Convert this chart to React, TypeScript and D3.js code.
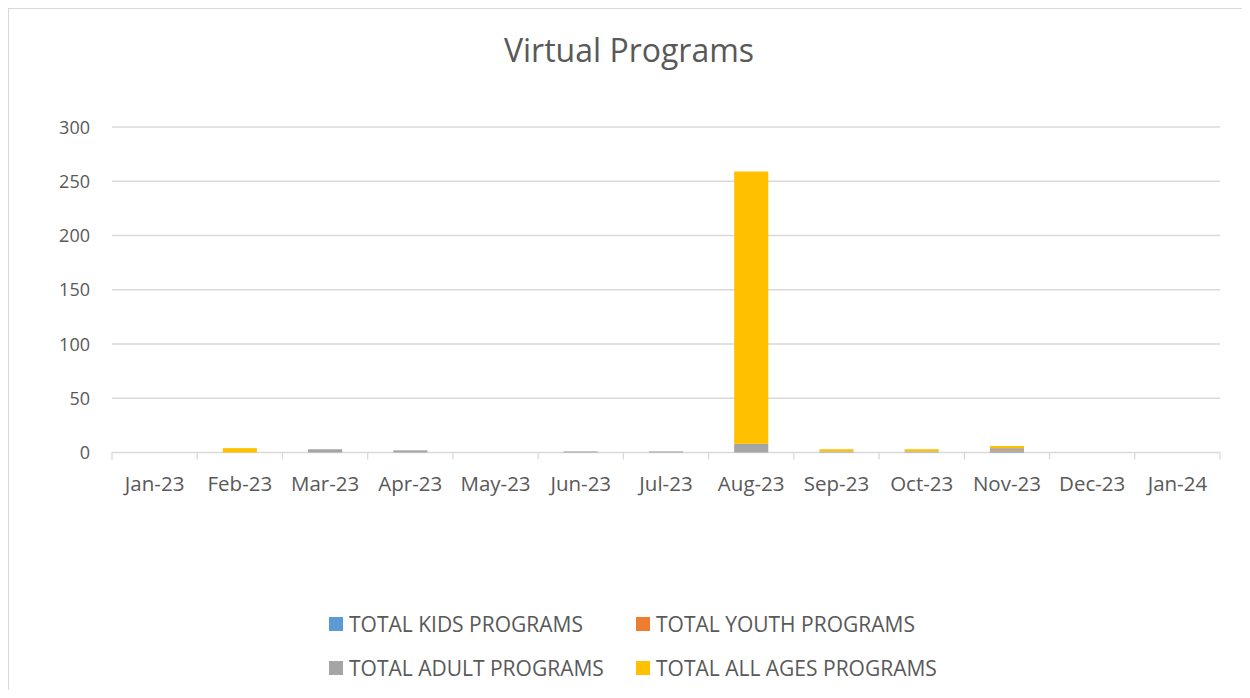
import React, { useEffect, useRef } from "react";
import * as d3 from "d3";

// Months on the category axis
const months = [
  "Jan-23", "Feb-23", "Mar-23", "Apr-23", "May-23", "Jun-23", "Jul-23",
  "Aug-23", "Sep-23", "Oct-23", "Nov-23", "Dec-23", "Jan-24",
];

// Series values (stacked, bottom to top)
const kidsPrograms = [0, 0, 0, 0, 0, 0, 0, 0, 0, 0, 1, 0, 0];
const youthPrograms = [0, 0, 0, 0, 0, 0, 0, 0, 0, 0, 1, 0, 0];
const adultPrograms = [0, 0, 3, 2, 0, 1, 1, 8, 1, 1, 2, 0, 0];
const allAgesPrograms = [0, 4, 0, 0, 0, 0, 0, 251, 2, 2, 2, 0, 0];

const seriesNames = [
  "TOTAL KIDS PROGRAMS",
  "TOTAL YOUTH PROGRAMS",
  "TOTAL ADULT PROGRAMS",
  "TOTAL ALL AGES PROGRAMS",
];
const seriesColors = ["#5B9BD5", "#ED7D31", "#A5A5A5", "#FFC000"];
const yTicks = [0, 50, 100, 150, 200, 250, 300];

const FONT = "'Open Sans', Lato, sans-serif";
const TEXT = "#595959";

const VirtualPrograms: React.FC = () => {
  const svgRef = useRef<SVGSVGElement>(null);

  useEffect(() => {
    if (!svgRef.current) return;
    const svg = d3.select(svgRef.current);
    svg.selectAll("*").remove();

    const width = 1242;
    const height = 682;
    const left = 104;
    const right = 1212;
    const top = 119;
    const bottom = 444.5;

    // chart frame (right/bottom edges run off the page like the original)
    svg
      .append("rect")
      .attr("x", 0.5)
      .attr("y", 0.5)
      .attr("width", width + 20)
      .attr("height", height + 20)
      .attr("fill", "white")
      .attr("stroke", "#d9d9d9");

    const x = d3.scaleBand<string>().domain(months).range([left, right]).paddingInner(0.6).paddingOuter(0.3);
    const xOuter = d3.scaleBand<string>().domain(months).range([left, right]);
    const y = d3.scaleLinear().domain([0, 300]).range([bottom, top]);

    // gridlines
    svg
      .append("g")
      .selectAll("line")
      .data(yTicks)
      .enter()
      .append("line")
      .attr("x1", left)
      .attr("x2", right)
      .attr("y1", (d) => y(d))
      .attr("y2", (d) => y(d))
      .attr("stroke", "#d9d9d9")
      .attr("stroke-width", 1.3);

    // y labels
    svg
      .append("g")
      .selectAll("text")
      .data(yTicks)
      .enter()
      .append("text")
      .attr("x", 82)
      .attr("y", (d) => y(d) + 6.5)
      .attr("text-anchor", "end")
      .style("font-family", FONT)
      .style("font-size", "18px")
      .style("fill", TEXT)
      .text((d) => d);

    // x tick marks at category boundaries
    const boundaries = months.map((m) => xOuter(m) as number).concat([right]);
    svg
      .append("g")
      .selectAll("line")
      .data(boundaries)
      .enter()
      .append("line")
      .attr("x1", (d) => d)
      .attr("x2", (d) => d)
      .attr("y1", bottom)
      .attr("y2", bottom + 7)
      .attr("stroke", "#d9d9d9")
      .attr("stroke-width", 1.3);

    // stacked bars
    const table = months.map((m, i) => ({
      month: m,
      kids: kidsPrograms[i],
      youth: youthPrograms[i],
      adult: adultPrograms[i],
      all: allAgesPrograms[i],
    }));
    const stack = d3.stack<any>().keys(["kids", "youth", "adult", "all"]);
    const layers = stack(table);

    svg
      .append("g")
      .selectAll("g")
      .data(layers)
      .enter()
      .append("g")
      .attr("fill", (_, i) => seriesColors[i])
      .selectAll("rect")
      .data((d) => d)
      .enter()
      .append("rect")
      .attr("x", (d: any) => x(d.data.month) as number)
      .attr("width", x.bandwidth())
      .attr("y", (d) => y(d[1]))
      .attr("height", (d) => y(d[0]) - y(d[1]));

    // x labels
    svg
      .append("g")
      .selectAll("text")
      .data(months)
      .enter()
      .append("text")
      .attr("x", (d) => (xOuter(d) as number) + xOuter.bandwidth() / 2)
      .attr("y", 483)
      .attr("text-anchor", "middle")
      .style("font-family", FONT)
      .style("font-size", "20.5px")
      .style("fill", TEXT)
      .text((d) => d);

    // title
    svg
      .append("text")
      .attr("x", 621)
      .attr("y", 54)
      .attr("text-anchor", "middle")
      .style("font-family", FONT)
      .style("font-size", "32px")
      .style("fill", TEXT)
      .text("Virtual Programs");

    // legend
    const legendPos = [
      [321, 624],
      [628, 624],
      [321, 668],
      [628, 668],
    ];
    const legend = svg
      .append("g")
      .selectAll("g")
      .data(seriesNames)
      .enter()
      .append("g")
      .attr("transform", (_, i) => `translate(${legendPos[i][0]}, ${legendPos[i][1]})`);
    legend
      .append("rect")
      .attr("x", 0)
      .attr("y", -15)
      .attr("width", 14)
      .attr("height", 14)
      .attr("fill", (_, i) => seriesColors[i]);
    legend
      .append("text")
      .attr("x", 20)
      .attr("y", 0)
      .style("font-family", FONT)
      .style("font-size", "21px")
      .style("fill", TEXT)
      .text((d) => d);
  }, []);

  return <svg ref={svgRef} width={1242} height={682} style={{ display: "block" }}></svg>;
};

export default function App() {
  return <VirtualPrograms />;
}
